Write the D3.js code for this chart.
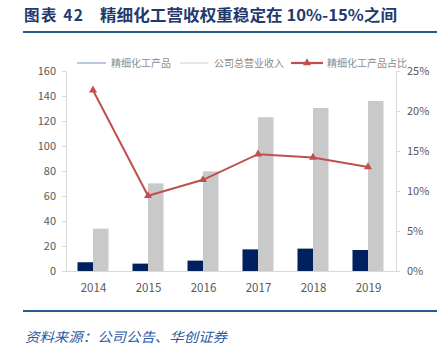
<!DOCTYPE html>
<html><head><meta charset="utf-8">
<script src="https://cdn.jsdelivr.net/npm/d3@7"></script>
<style>body{margin:0;background:#fff}svg{display:block}</style>
</head><body><svg id="c" width="446" height="346"></svg>
<script>
const years = ["2014","2015","2016","2017","2018","2019"];
const fineChem = [7.0, 5.9, 8.3, 17.3, 17.9, 16.8];
const totalRev = [33.9, 70.1, 79.7, 123.0, 130.4, 136.0];
const share = [0.226, 0.094, 0.114, 0.146, 0.142, 0.130];
const leftTicks = [0,20,40,60,80,100,120,140,160];
const rightTicks = [0,0.05,0.10,0.15,0.20,0.25];
const seriesNames = ["精细化工产品","公司总营业收入","精细化工产品占比"];

const svg = d3.select("#c");
const L = 66, R = 396, T = 71, B = 271;
const font = "'Noto Sans CJK SC','Noto Sans',sans-serif";
const gray = "#595959";

// title
svg.append("text").attr("x",24).attr("y",21).attr("fill","#1f3a6e")
  .attr("font-family","'Noto Sans CJK SC',serif").attr("font-weight","bold").attr("font-size",15.5)
  .attr("textLength",59).attr("lengthAdjust","spacing")
  .text("图表 42");
svg.append("text").attr("x",100).attr("y",21).attr("fill","#1f3a6e")
  .attr("font-family","'Noto Sans CJK SC',serif").attr("font-weight","bold").attr("font-size",15.5)
  .attr("textLength",297).attr("lengthAdjust","spacingAndGlyphs")
  .text("精细化工营收权重稳定在 10%-15%之间");
svg.append("rect").attr("x",23).attr("y",31).attr("width",414).attr("height",2).attr("fill","#2a5a94");
svg.append("rect").attr("x",23).attr("y",310).attr("width",414).attr("height",2).attr("fill","#2a5a94");
svg.append("text").attr("x",25).attr("y",342).attr("fill","#2b5aa8")
  .attr("font-family",font).attr("font-style","italic").attr("font-size",13.5)
  .attr("textLength",202).attr("lengthAdjust","spacingAndGlyphs")
  .text("资料来源：公司公告、华创证券");

const x = d3.scaleBand().domain(years).range([L,R]);
const yL = d3.scaleLinear().domain([0,160]).range([B,T]);
const yR = d3.scaleLinear().domain([0,0.25]).range([B,T]);
const bw = 15.5;

// axes
const axL = svg.append("g").attr("transform",`translate(${L},0)`)
  .call(d3.axisLeft(yL).tickValues(leftTicks).tickSize(4).tickPadding(6));
const axR = svg.append("g").attr("transform",`translate(${R},0)`)
  .call(d3.axisRight(yR).tickValues(rightTicks).tickFormat(d3.format(".0%")).tickSize(4).tickPadding(7));
[axL,axR].forEach(a=>{
  a.select(".domain").attr("stroke","#d9d9d9");
  a.selectAll(".tick line").attr("stroke","#d9d9d9");
  a.selectAll("text").attr("fill",gray).attr("font-size",11).attr("font-family",font);
});
const axB = svg.append("g").attr("transform",`translate(0,${B})`)
  .call(d3.axisBottom(x).tickSize(0).tickPadding(13));
axB.select(".domain").attr("stroke","#d9d9d9");
axB.selectAll("text").attr("fill",gray).attr("font-size",11.5).attr("font-family",font);

// bars
svg.append("g").selectAll("rect").data(years).join("rect")
  .attr("x",d=>x(d)+x.bandwidth()/2-bw-0.5).attr("width",bw)
  .attr("y",(d,i)=>yL(fineChem[i])).attr("height",(d,i)=>B-yL(fineChem[i]))
  .attr("fill","#002060");
svg.append("g").selectAll("rect").data(years).join("rect")
  .attr("x",d=>x(d)+x.bandwidth()/2-0.5).attr("width",bw)
  .attr("y",(d,i)=>yL(totalRev[i])).attr("height",(d,i)=>B-yL(totalRev[i]))
  .attr("fill","#c9c9c9");

// line
const red = "#c0504d";
const line = d3.line().x((d,i)=>x(years[i])+x.bandwidth()/2-0.5).y(d=>yR(d));
svg.append("path").datum(share).attr("d",line).attr("fill","none").attr("stroke",red).attr("stroke-width",2);
const tri = d3.symbol().type(d3.symbolTriangle).size(28);
svg.append("g").selectAll("path").data(share).join("path")
  .attr("d",tri).attr("fill",red)
  .attr("transform",(d,i)=>`translate(${x(years[i])+x.bandwidth()/2-0.5},${yR(d)})`);

// legend
const lg = svg.append("g").attr("font-family",font).attr("font-size",10).attr("fill","#8c8c8c");
const items = [
  {x1:77,x2:106,tx:111,color:"#8ea2c8",w:1.2,name:seriesNames[0]},
  {x1:180,x2:208,tx:214,color:"#d9d9d9",w:1.2,name:seriesNames[1]},
  {x1:291,x2:323,tx:327,color:red,w:2.2,name:seriesNames[2],marker:true}
];
items.forEach(it=>{
  lg.append("line").attr("x1",it.x1).attr("x2",it.x2).attr("y1",63).attr("y2",63)
    .attr("stroke",it.color).attr("stroke-width",it.w);
  if(it.marker) lg.append("path").attr("d",tri).attr("fill",red)
    .attr("transform",`translate(${(it.x1+it.x2)/2},63)`);
  lg.append("text").attr("x",it.tx).attr("y",66.5).text(it.name);
});
</script></body></html>
